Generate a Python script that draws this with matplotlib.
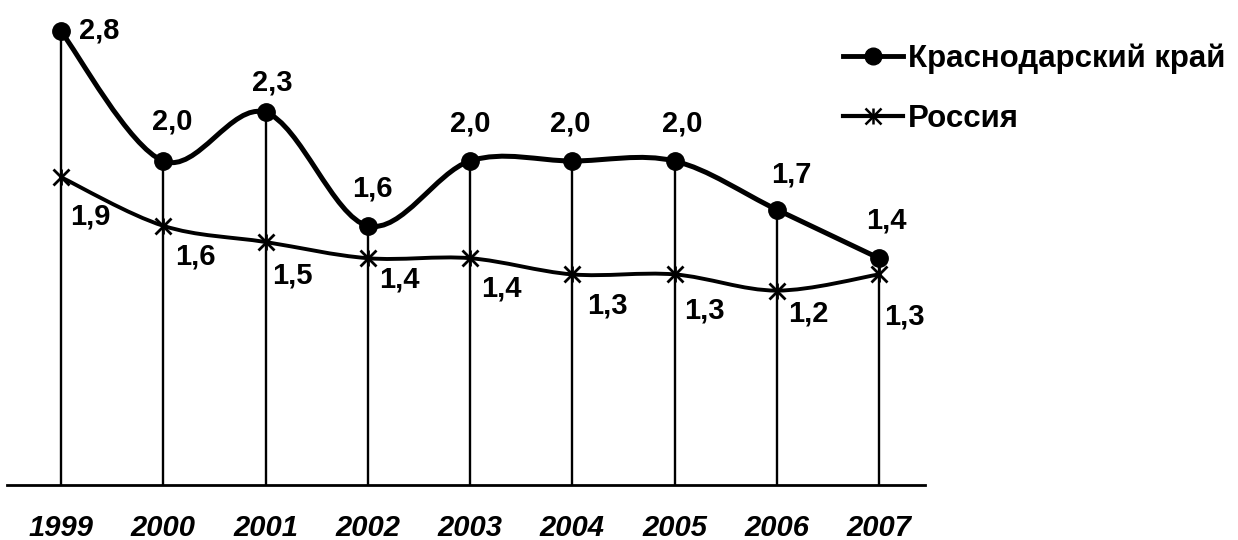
import numpy as np
import matplotlib
matplotlib.use("Agg")
import matplotlib.pyplot as plt
from matplotlib.path import Path
from matplotlib.patches import PathPatch
from matplotlib.lines import Line2D
from matplotlib.legend_handler import HandlerTuple

plt.rcParams["font.family"] = ["Liberation Sans", "DejaVu Sans"]
plt.rcParams["font.weight"] = "bold"

# data
years = [1999, 2000, 2001, 2002, 2003, 2004, 2005, 2006, 2007]
krasnodar = [2.8, 2.0, 2.3, 1.6, 2.0, 2.0, 2.0, 1.7, 1.4]
russia = [1.9, 1.6, 1.5, 1.4, 1.4, 1.3, 1.3, 1.2, 1.3]
series_names = ["Краснодарский край", "Россия"]

# label offsets in pixels (dx, dy) relative to each point
kras_offsets = [(38, 1), (9, 40), (7, 30), (5, 37), (0, 38), (-2, 38), (8, 38), (15, 35), (7, 38)]
rus_offsets = [(29, -39), (32, -31), (27, -33), (32, -21), (31, -30), (35, -31), (30, -36), (32, -23), (25, -42)]

VALUE_FS = 21
LEGEND_FS = 22.5


def smooth_path(xs, ys):
    """Catmull-Rom style cubic Bezier path through the points."""
    pts = np.column_stack([xs, ys]).astype(float)
    n = len(pts)
    verts = [pts[0]]
    codes = [Path.MOVETO]
    for i in range(n - 1):
        p0 = pts[i - 1] if i > 0 else pts[i]
        p1 = pts[i]
        p2 = pts[i + 1]
        p3 = pts[i + 2] if i + 2 < n else pts[i + 1]
        c1 = p1 + (p2 - p0) / 6.0
        c2 = p2 - (p3 - p1) / 6.0
        verts += [c1, c2, p2]
        codes += [Path.CURVE4] * 3
    return Path(verts, codes)


fig = plt.figure(figsize=(12.38, 5.40), dpi=100)
W, H = 1238, 540
ax = fig.add_axes([7 / W, (H - 485) / H, (925 - 7) / W, 485 / H])
ax.set_xlim(1999 - 54 / 102.25, 2007 + 46 / 102.25)
ax.set_ylim(0, 485 / 162.0)

for s in ["top", "right", "left"]:
    ax.spines[s].set_visible(False)
ax.spines["bottom"].set_linewidth(2.0)
ax.set_yticks([])
ax.set_xticks(years)
ax.set_xticklabels([str(y) for y in years], fontsize=VALUE_FS, fontstyle="italic", fontweight="bold")
ax.tick_params(axis="x", length=0, pad=21)

# drop lines
ax.vlines(years, 0, krasnodar, colors="black", linewidth=1.7, zorder=2)

# smoothed series
ax.add_patch(PathPatch(smooth_path(years, krasnodar), facecolor="none", edgecolor="black",
                       linewidth=3.6, zorder=3, capstyle="round", joinstyle="round"))
ax.add_patch(PathPatch(smooth_path(years, russia), facecolor="none", edgecolor="black",
                       linewidth=2.8, zorder=3, capstyle="round", joinstyle="round"))

ax.plot(years, krasnodar, linestyle="none", marker="o", markersize=12.5, color="black", zorder=4)
ax.plot(years, russia, linestyle="none", marker="x", markersize=12, markeredgewidth=2.0, color="black", zorder=4)
ax.plot(years, russia, linestyle="none", marker="|", markersize=12, markeredgewidth=2.0, color="black", zorder=4)

for x, v, (dx, dy) in zip(years, krasnodar, kras_offsets):
    ax.annotate(f"{v:.1f}".replace(".", ","), (x, v), xytext=(dx, dy), textcoords="offset pixels",
                ha="center", va="center", fontsize=VALUE_FS, fontweight="bold", zorder=5)
for x, v, (dx, dy) in zip(years, russia, rus_offsets):
    ax.annotate(f"{v:.1f}".replace(".", ","), (x, v), xytext=(dx, dy), textcoords="offset pixels",
                ha="center", va="center", fontsize=VALUE_FS, fontweight="bold", zorder=5)

# legend
h_kras = Line2D([], [], color="black", linewidth=3.5, marker="o", markersize=12)
h_rus_line = Line2D([], [], color="black", linewidth=3.0, marker="x", markersize=11, markeredgewidth=1.8)
h_rus_bar = Line2D([], [], color="none", linewidth=0, marker="|", markersize=11, markeredgewidth=1.8,
                   markeredgecolor="black")
fig.legend([h_kras, (h_rus_line, h_rus_bar)], series_names,
           handler_map={tuple: HandlerTuple(ndivide=1)},
           loc="upper left", bbox_to_anchor=(843 / W, 1 - 43 / H),
           frameon=False, handlelength=1.92, handletextpad=0.16,
           borderpad=0, borderaxespad=0, labelspacing=0.98,
           prop={"weight": "bold", "size": LEGEND_FS})

fig.savefig("out.png", dpi=100)
